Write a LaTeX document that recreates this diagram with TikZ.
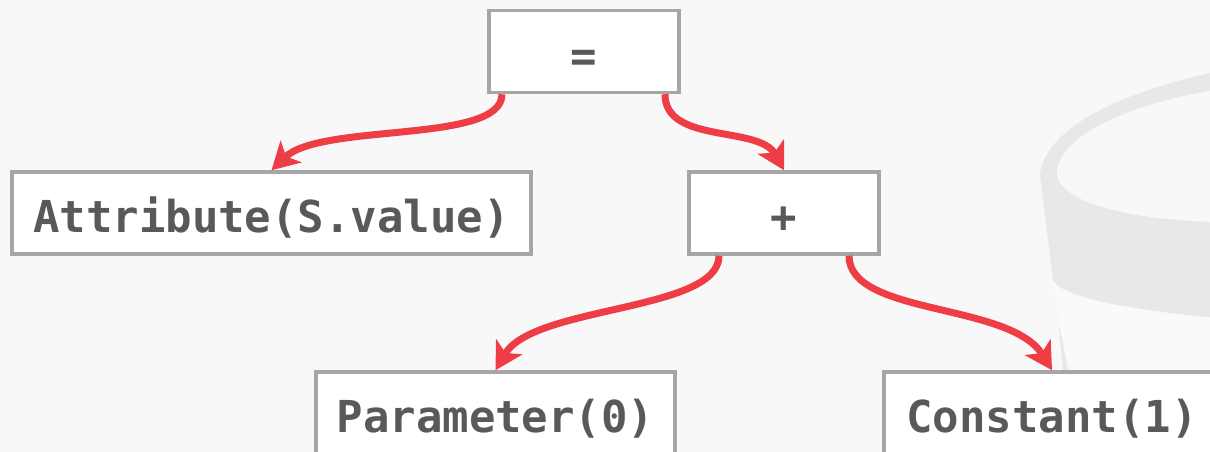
\documentclass[tikz,border=0pt]{standalone}
\usepackage{fontspec}
\setmonofont{DejaVu Sans Mono}
\usetikzlibrary{arrows.meta}
\definecolor{bgc}{HTML}{F8F8F8}
\definecolor{dbgray}{HTML}{E8E8E8}
\definecolor{dbwhite}{HTML}{FAFAFA}
\definecolor{boxline}{HTML}{A6A6A6}
\definecolor{txt}{HTML}{595959}
\definecolor{arrred}{HTML}{EE3D44}
\tikzset{
  treebox/.style={draw=boxline, line width=3.5bp, fill=white, rectangle,
    inner sep=0pt, minimum height=82bp, text=txt,
    font=\fontsize{44bp}{48bp}\selectfont\ttfamily\bfseries,
    text height=40bp, text depth=0bp},
  treearrow/.style={draw=arrred, line width=7bp,
    -{Stealth[length=27bp, width=30bp, inset=7bp]}}
}
\begin{document}
\begin{tikzpicture}[x=1bp, y=-1bp]
\useasboundingbox (0,0) rectangle (1210,452);
\clip (0,0) rectangle (1210,452);
\fill[bgc] (0,0) rectangle (1210,452);
% faint database cylinder in the background
\fill[dbgray] (1040,175) .. controls (1045,125) and (1130,90) .. (1215,72)
  -- (1215,318) .. controls (1140,310) and (1065,300) .. (1053,280) -- cycle;
\fill[bgc] (1057,172) .. controls (1060,132) and (1140,102) .. (1215,90)
  -- (1215,222) .. controls (1140,220) and (1057,205) .. cycle;
\fill[dbwhite] (1053,282) .. controls (1065,300) and (1140,312) .. (1215,318)
  -- (1215,372) -- (1066,372) -- (1060,326) -- cycle;
\fill[dbgray] (1059,326) .. controls (1064,345) and (1066,360) .. (1068,372) -- (1063,372) -- cycle;
% tree
\node[treebox, minimum width=190bp] (eq) at (584,51.5) {=};
\node[treebox, minimum width=519bp] (attr) at (271.5,213) {Attribute(S.value)};
\node[treebox, minimum width=190bp] (plus) at (784,213) {+};
\node[treebox, minimum width=359bp] (param) at (495.5,413) {Parameter(0)};
\node[treebox, minimum width=336bp] (const) at (1052,413) {Constant(1)};
\draw[treearrow] ([xshift=-82bp]eq.south) .. controls +(0,50) and +(50,-48) .. (attr.north);
\draw[treearrow] ([xshift=81bp]eq.south) .. controls +(0,50) and +(-25,-45) .. (plus.north);
\draw[treearrow] ([xshift=-65bp]plus.south) .. controls +(0,56) and +(38,-65) .. (param.north);
\draw[treearrow] ([xshift=65bp]plus.south) .. controls +(0,60) and +(-42,-68) .. (const.north);
\end{tikzpicture}
\end{document}
